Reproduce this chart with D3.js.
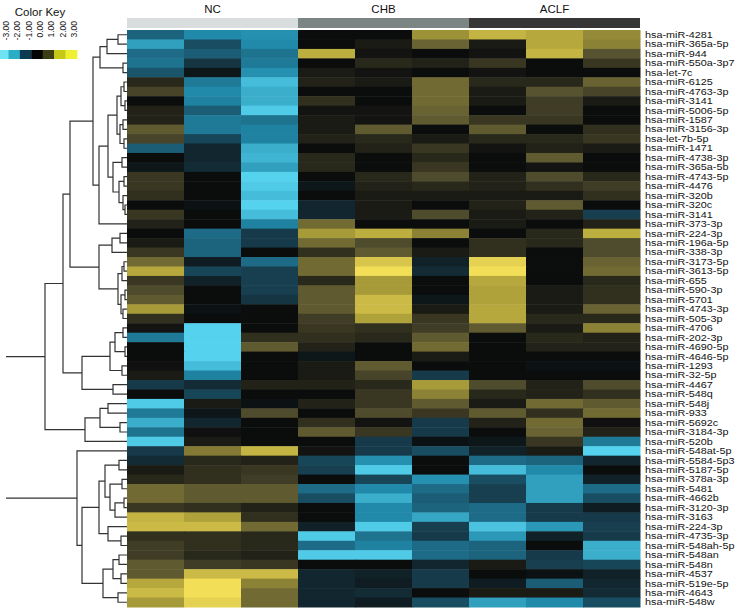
<!DOCTYPE html>
<html>
<head>
<meta charset="utf-8">
<script src="https://cdn.jsdelivr.net/npm/d3@7/dist/d3.min.js"></script>
<style>
  body { margin: 0; background: #fff; }
  text { font-family: "Liberation Sans", Arial, Helvetica, sans-serif; fill: #111; }
</style>
</head>
<body>
<svg id="chart"></svg>
<script>
// groups / samples
const groups = ["NC", "CHB", "ACLF"];
const samples = ["NC1", "NC2", "NC3", "CHB1", "CHB2", "CHB3", "ACLF1", "ACLF2", "ACLF3"];

// row labels (top to bottom, dendrogram order)
const mirnas = [
  "hsa-miR-4281", "hsa-miR-365a-5p", "hsa-miR-944", "hsa-miR-550a-3p7", "hsa-let-7c",
  "hsa-miR-6125", "hsa-miR-4763-3p", "hsa-miR-3141", "hsa-miR-5006-5p", "hsa-miR-1587",
  "hsa-miR-3156-3p", "hsa-let-7b-5p", "hsa-miR-1471", "hsa-miR-4738-3p", "hsa-miR-365a-5b",
  "hsa-miR-4743-5p", "hsa-miR-4476", "hsa-miR-320b", "hsa-miR-320c", "hsa-miR-3141",
  "hsa-miR-373-3p", "hsa-miR-224-3p", "hsa-miR-196a-5p", "hsa-miR-338-3p", "hsa-miR-3173-5p",
  "hsa-miR-3613-5p", "hsa-miR-655", "hsa-miR-590-3p", "hsa-miR-5701", "hsa-miR-4743-3p",
  "hsa-miR-505-3p", "hsa-miR-4706", "hsa-miR-202-3p", "hsa-miR-4690-5p", "hsa-miR-4646-5p",
  "hsa-miR-1293", "hsa-miR-32-5p", "hsa-miR-4467", "hsa-miR-548q", "hsa-miR-548j",
  "hsa-miR-933", "hsa-miR-5692c", "hsa-miR-3184-3p", "hsa-miR-520b", "hsa-miR-548at-5p",
  "hsa-miR-5584-5p3", "hsa-miR-5187-5p", "hsa-miR-378a-3p", "hsa-miR-5481", "hsa-miR-4662b",
  "hsa-miR-3120-3p", "hsa-miR-3163", "hsa-miR-224-3p", "hsa-miR-4735-3p", "hsa-miR-548ah-5p",
  "hsa-miR-548an", "hsa-miR-548n", "hsa-miR-4537", "hsa-miR-519e-5p", "hsa-miR-4643",
  "hsa-miR-548w"
];

// scaled expression, one row per miRNA, columns in samples order
const values = [
  [-1.5, -2.0, -2.1, 0, 0, 1.8, 2.3, 2.1, 1.7],
  [-2.3, -1.2, -2.0, 0, 0.2, 1.2, 0.2, 2.1, 1.6],
  [-1.6, -1.4, -1.7, 2.2, 0.1, 0, 0.1, 2.3, 1.0],
  [-1.7, -0.8, -1.8, 0, 0.4, 0.3, 0.6, 0, 0.6],
  [-1.3, -0.2, -2.1, 0.2, 0.1, 0, 0.1, 0, 0],
  [0.4, -1.8, -2.7, 0.3, 0.2, 1.3, 0.4, 0.4, 1.2],
  [0.8, -2.0, -2.5, 0, 0, 1.3, 0.2, 1.0, 0.8],
  [0, -1.9, -2.5, 0.5, 0, 1.3, 0.2, 0.7, 0.2],
  [0.3, -1.4, -2.9, 0.1, 0.1, 1.2, 0, 0.7, 0],
  [0.3, -1.8, -1.7, 0.2, 0.1, 1.1, 0.6, 0.6, 0],
  [1.1, -1.8, -1.9, 0.2, 1.1, 0, 1.1, 0, 0.5],
  [0.8, -1.1, -1.9, 0.3, 0.4, 0.2, 0.4, 0.4, 0.6],
  [-1.4, -0.5, -2.5, 0, 0.3, 0.6, 0.1, 0.3, 0.2],
  [0, -0.5, -2.6, 0.4, 0, 0.4, 0, 1.1, 0],
  [-0.2, -0.6, -2.3, 0.4, 0, 0.6, 0, 0.1, 0],
  [0.6, 0, -3.0, 0, 0.4, 0.9, 0.3, 0.9, 0.4],
  [0.6, 0, -2.9, -0.2, 0.3, 0.4, 0.3, 0.5, 0.7],
  [0.5, 0, -2.7, 0, 0.2, 0.2, 0.2, 0.2, 0.5],
  [0, -0.1, -3.0, -0.5, 0.2, 0, 0.3, 1.1, 0],
  [0.6, 0, -2.7, -0.5, 0.2, 0.9, 0.2, 0.3, -1.0],
  [0.3, 0, -1.9, 1.3, 0, 0, 0.2, 0, 0.3],
  [0, -1.6, -0.9, 1.9, 2.2, 1.6, 0, 0.4, 2.2],
  [0.2, -1.5, -0.9, 1.3, 0.9, 0, 0.5, 0.4, 0.9],
  [0.6, -1.5, 0, 0.5, 1.1, 0.2, 0.5, 0, 0.9],
  [1.3, -0.3, -1.6, 1.3, 2.6, -0.4, 2.8, 0, 1.2],
  [2.1, -1.1, -1.0, 1.3, 3.0, -0.6, 3.0, 0, 1.3],
  [0.6, -0.4, -1.0, 0.4, 1.9, 0, 2.1, 0, 0.4],
  [0.9, 0, -1.0, 1.1, 1.9, 0, 2.0, 0.2, 0.5],
  [1.1, 0, -0.8, 1.1, 2.4, -0.2, 2.0, 0.2, 0.5],
  [1.9, -0.1, 0, 1.1, 2.4, 0.2, 2.1, 0.2, 1.2],
  [0.5, 0, 0, 0.7, 2.0, 0.6, 2.1, 0.4, 0.4],
  [0.1, -3.0, 0, 0.6, 0.5, 0.7, 1.1, 0.2, 1.6],
  [-1.8, -3.0, 0.5, 0.5, 0.4, 1.1, 0, 0.4, 0.3],
  [0, -3.0, 1.1, 0.3, 0, 1.3, 0, 0.3, 0.3],
  [0, -3.0, 0, -0.2, 0, 0.2, 0, 0, 0],
  [0.05, -2.7, 0, 0.2, 1.1, 0, 0, -0.1, -0.1],
  [0.2, -1.9, 0, 0.2, 0.8, -0.9, 0, 0, 0],
  [-0.9, -0.6, 0.3, 0.3, 0.4, 1.9, 0.9, 0.3, 0.9],
  [0, -1.1, 0, 0, 0.6, 1.6, 0.4, 0.3, 0.5],
  [-2.9, 0.2, -0.1, 0.3, 0.6, 1.1, 0.2, 1.3, 1.1],
  [-1.8, -0.2, 0.9, 0, 0.9, 0.6, 1.1, 0.5, 1.3],
  [-2.5, -0.5, 0, 0.5, 0.1, -0.9, 0.3, 1.3, 0.05],
  [-1.7, 0.05, 0, 1.1, 0.6, -0.9, 0, 1.2, 0.3],
  [-2.9, 0.2, 0, 0, -0.9, -0.1, -0.2, 0.6, -1.8],
  [-0.9, 1.5, 2.3, 0.1, -0.9, -1.2, -0.4, 0.2, -3.0],
  [-0.6, 0.4, 0.3, -1.1, -2.1, 0, -1.6, -1.5, -0.5],
  [0.2, 0.5, 0.6, -1.0, -2.9, 0, -2.7, -2.0, 0],
  [0.4, 0.5, 0.7, 0, -1.1, -2.1, -1.2, -2.3, -0.4],
  [1.3, 1.1, 1.1, -1.6, -2.0, -1.6, -1.0, -2.3, -1.6],
  [1.3, 1.1, 1.1, -1.2, -2.5, -1.4, -1.0, -2.3, -1.2],
  [0.6, 0.5, 0.3, 0, -2.0, -1.5, -1.6, -0.9, -0.3],
  [2.3, 2.0, 0.5, 0, -2.0, -2.4, -1.6, -0.9, -0.9],
  [2.4, 2.4, 1.3, -0.4, -2.9, -1.0, -2.8, -2.2, -1.0],
  [0.5, 0.5, 0.4, -2.9, -1.7, -0.9, -2.2, -0.4, -0.9],
  [0.7, 0.5, 0.4, -1.6, -1.9, -1.6, -1.5, 0, -2.5],
  [0.7, 0.4, 0.3, -2.9, -2.9, -1.6, -1.5, -0.9, -2.5],
  [1.1, 0.7, 0.6, 0, 0, -0.5, 0.2, -1.0, -1.1],
  [1.1, 2.4, 2.4, -0.5, -0.4, -0.9, 0, -0.1, -0.4],
  [2.1, 3.0, 1.6, -0.5, -0.3, -0.9, -0.3, -1.4, -0.5],
  [2.4, 3.0, 1.3, -0.5, -0.6, 0, 0.2, 0.2, -0.6],
  [1.9, 2.8, 1.3, -0.5, -0.3, -1.2, -2.3, -2.0, -1.2]
];

// color key ticks
const keyTicks = [-3, -2, -1, 0, 1, 2, 3];

// row dendrogram: [left, right, height], numbers are row indices
const tree = [
  [
    [
      [
        [[[[0, 1, 0.9], 2, 2.0], [3, 4, 0.4], 2.7],
         [[[[[5, 6, 0.3], [7, 8, 0.2], 0.6], [[9, 10, 0.4], [11, 12, 0.3], 0.7], 1.0],
           [[13, 14, 0.5], [[15, 16, 0.3], [17, [18, 19, 0.2], 0.4], 0.8], 1.4], 1.9], 20, 2.8], 3.4],
        [[[21, 22, 0.7], 23, 1.5], [[[24, 25, 0.3], 26, 0.5], [[27, 28, 0.2], [29, 30, 0.4], 0.6], 0.9], 2.8],
        5.7
      ],
      [[[[31, 32, 0.4], [33, 34, 0.2], 1.2], [35, 36, 0.5], 1.7], [37, 38, 1.4], 4.5],
      6.4
    ],
    [[[39, 40, 1.9], [41, 42, 0.7], 2.7], 43, 4.2],
    8.2
  ],
  [
    44,
    [
      [[[45, 46, 0.8], [[47, 48, 0.5], [[49, 50, 0.3], 51, 1.2], 1.7], 2.2], [52, [53, 54, 0.6], 1.9], 2.8],
      [[[55, 56, 0.8], [57, 58, 0.6], 1.4], [59, 60, 0.9], 2.4],
      4.5
    ],
    5.0
  ],
  12.1
];

const W = 747, H = 609;
const svg = d3.select("#chart").attr("width", W).attr("height", H);

const x = d3.scaleBand().domain(d3.range(samples.length)).range([127, 640]);
const y = d3.scaleBand().domain(d3.range(mirnas.length)).range([30, 607]);
const gx = d3.scaleBand().domain(groups).range([127, 640]);

const color = d3.scaleLinear()
  .domain(keyTicks)
  .range(["#55d2ee", "#2189aa", "#173f50", "#0b0d0d", "#575230", "#b0a23a", "#f3de58"])
  .clamp(true);
const keyColor = d3.scaleOrdinal()
  .domain(keyTicks)
  .range(["#6ee4f2", "#2aaec6", "#0c3a50", "#050505", "#3c3e12", "#c6c816", "#eef032"]);

// heatmap cells
const cells = [];
values.forEach((row, i) => row.forEach((v, j) => cells.push({ i, j, v })));
svg.append("g")
  .selectAll("rect")
  .data(cells)
  .join("rect")
    .attr("x", d => x(d.j))
    .attr("y", d => y(d.i))
    .attr("width", x.bandwidth() + 0.5)
    .attr("height", y.bandwidth() + 0.5)
    .attr("fill", d => color(d.v));

// group header bars
const groupFill = d3.scaleOrdinal().domain(groups).range(["#d9dddd", "#7b8584", "#363636"]);
svg.append("g")
  .selectAll("rect")
  .data(groups)
  .join("rect")
    .attr("x", d => gx(d))
    .attr("y", 18)
    .attr("width", gx.bandwidth())
    .attr("height", 10)
    .attr("fill", d => groupFill(d));
svg.append("g")
  .selectAll("text")
  .data(groups)
  .join("text")
    .attr("x", d => gx(d) + gx.bandwidth() / 2)
    .attr("y", 13)
    .attr("text-anchor", "middle")
    .style("font-size", "11.5px")
    .text(d => d);

// row labels: smaller font stretched sideways so lines keep the reference width
svg.append("g")
  .selectAll("text")
  .data(mirnas)
  .join("text")
    .attr("transform", (d, i) => `translate(645,${y(i) + y.bandwidth() / 2}) scale(1.2,1)`)
    .attr("dominant-baseline", "central")
    .style("font-size", "9px")
    .text(d => d);

// dendrogram
const root = d3.hierarchy(tree, d => Array.isArray(d) ? d.slice(0, 2) : null);
root.eachAfter(n => {
  if (n.children) {
    n.h = n.data[2];
    n.yy = d3.mean(n.children, c => c.yy);
  } else {
    n.h = 0;
    n.yy = y(n.data) + y.bandwidth() / 2;
  }
});
const hx = d3.scaleLinear().domain([0, root.h]).range([127, 6]);
const dendro = svg.append("g")
  .attr("fill", "none")
  .attr("stroke", "#333")
  .attr("stroke-width", 1.2);
root.each(n => {
  if (!n.children) return;
  const [a, b] = n.children;
  let p;
  if (n === root) {
    // top split drawn as two stubs
    p = `M${hx(n.h)},${a.yy}H${hx(a.h)}M${hx(n.h)},${b.yy}H${hx(b.h)}`;
  } else {
    p = `M${hx(a.h)},${a.yy}H${hx(n.h)}V${b.yy}H${hx(b.h)}`;
  }
  dendro.append("path").attr("d", p);
});

// color key
svg.append("text")
  .attr("x", 40)
  .attr("y", 16)
  .attr("text-anchor", "middle")
  .style("font-size", "11.5px")
  .text("Color Key");
const kx = d3.scaleBand().domain(keyTicks).range([-3, 77]);
svg.append("g")
  .selectAll("rect")
  .data(keyTicks)
  .join("rect")
    .attr("x", d => kx(d))
    .attr("y", 50)
    .attr("width", kx.bandwidth() + 0.3)
    .attr("height", 9)
    .attr("fill", d => keyColor(d));
svg.append("g")
  .selectAll("text")
  .data(keyTicks)
  .join("text")
    .attr("transform", d => `translate(${kx(d) + kx.bandwidth() / 2 + 3},21) rotate(-90)`)
    .attr("text-anchor", "end")
    .attr("dominant-baseline", "central")
    .style("font-size", "8.5px")
    .text(d => d.toFixed(2));
</script>
</body>
</html>
